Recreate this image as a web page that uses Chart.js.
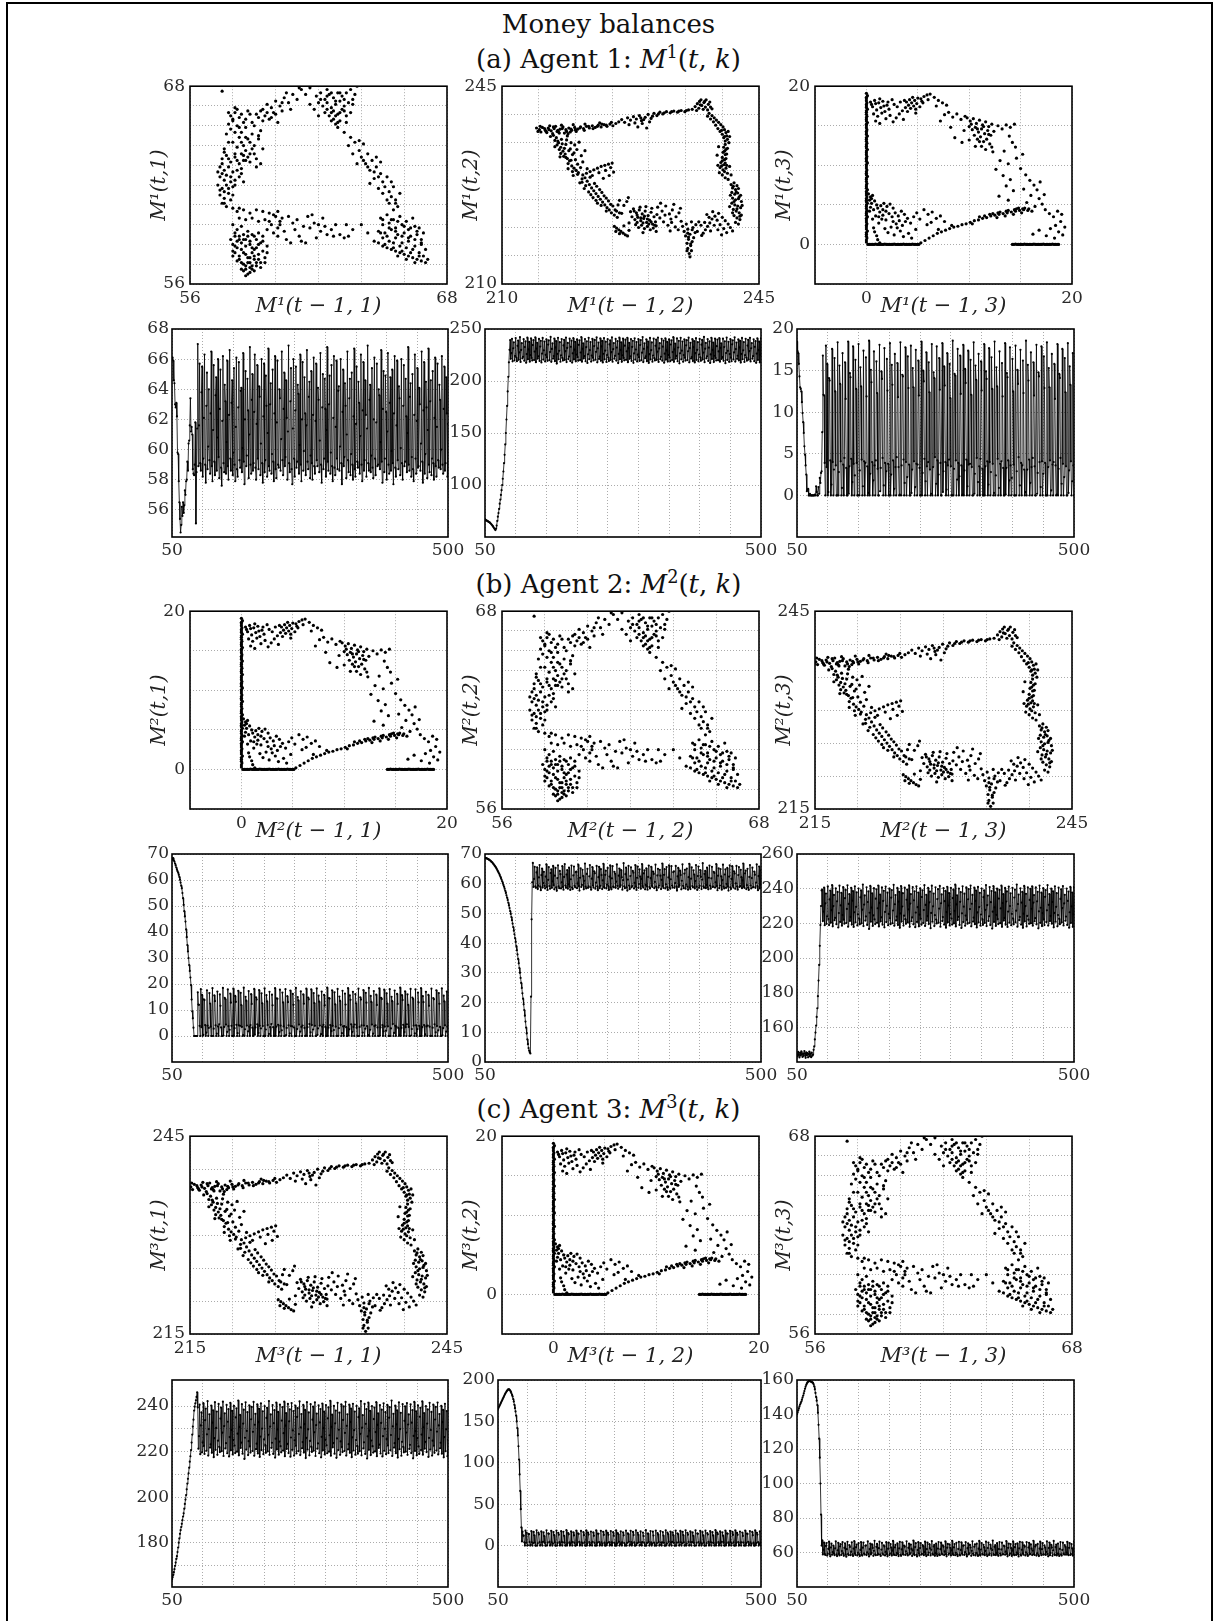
<!DOCTYPE html>
<html><head><meta charset="utf-8">
<script src="https://cdn.jsdelivr.net/npm/chart.js@4"></script>
<style>
html,body{margin:0;padding:0;background:#fff;}
#fig{position:relative;width:1217px;height:1621px;overflow:hidden;background:#fff;}
#frame{position:absolute;left:6px;top:2px;width:1207px;height:1650px;border:2px solid #000;box-sizing:border-box;}
.ttl{position:absolute;left:0;width:1217px;text-align:center;font-family:"DejaVu Serif";font-size:26px;color:#111;line-height:30px;white-space:nowrap;}
.ttl sup{font-size:0.68em;vertical-align:0.55em;line-height:0;}
.ch{position:absolute;}
</style></head>
<body>
<div id="fig">
<div id="frame"></div>
<div class="ttl" style="top:9px">Money balances</div>
<div class="ttl" style="top:44px">(a) Agent 1: <i>M</i><sup>1</sup>(<i>t</i>, <i>k</i>)</div>
<div class="ttl" style="top:569px">(b) Agent 2: <i>M</i><sup>2</sup>(<i>t</i>, <i>k</i>)</div>
<div class="ttl" style="top:1094px">(c) Agent 3: <i>M</i><sup>3</sup>(<i>t</i>, <i>k</i>)</div>
</div>
<script>
// ---------------- time axis ----------------
const T0 = 50, T1 = 500;
const tsXTicks = [50,100,150,200,250,300,350,400,450,500];
const tsXLabels = [50,500];

// ---------------- steady-state oscillations ----------------
const lowCycle = [
67.0,58.9,61.6,65.7,59.1,58.6,63.8,65.5,58.2,59.4,
62.1,66.3,59.0,57.8,62.9,65.1,58.7,60.2,64.0,59.3,
58.4,62.4,66.5,58.9,57.9,61.3,65.6,59.2,58.3,63.6,
64.8,58.6,60.8,66.0,59.5,58.1,62.7,65.3,58.8,57.6,
61.9,66.2,59.1,58.5,64.3,63.2,58.4,60.5,65.9,58.9,
58.0,62.3,66.6,59.4,58.6,63.1,64.6,58.3,59.8,65.4,
59.0,57.9,61.5,66.1,58.7,58.2,62.8,65.8,59.3,58.8,
63.9,64.1,58.5,60.1,66.4,59.2,57.7,62.0,65.2,58.9,
59.6,64.7,62.6,58.1,61.0,66.8,59.0,58.4,63.3,65.0,
58.6,59.1,62.5,66.3,58.8,58.0,61.7,65.6,59.4,58.7,
64.2,63.5,58.3,60.4,66.0,59.1,57.8,62.2,65.7,58.5,
59.3,64.9,62.9,58.2,61.1,66.7,58.9,58.6,63.0,64.4,
58.4,59.7,65.3,59.2,57.9,62.4,66.2,58.7,58.1,61.8,
65.9,59.0,58.8,64.0,63.4,58.6,60.7,66.5,59.3,58.3,
62.7,65.1,58.9,59.5,64.6,62.1,58.0,61.2,66.9,59.1,
58.5,63.2,65.4,58.7,57.7,61.4,66.0,59.4,58.2,62.6,
65.5,58.8,59.2,64.3,63.7,58.4,60.3,66.3,59.0,57.9,
62.0,65.8,58.6,59.9,64.8,62.4,58.3,61.6,66.6,59.2,
58.7,63.5,64.5,58.1,59.6,65.2,59.1,58.0,62.3,66.1,
58.9,58.4,61.9,65.7,59.3,58.9,64.1,63.3,58.5,60.6,
66.4,59.0,57.8,62.8,65.0,58.7,59.4,64.7,62.7,58.2,
61.3,66.8,59.2,58.6,63.0,64.9,58.4,59.8,65.6,58.9,
57.9,62.1,66.2,58.8,58.3,61.5,65.9,59.4,58.7,63.9,
64.2,58.6,60.2,66.0,59.1,57.7,62.5,65.3,58.9,59.5,
64.4,62.9,58.1,61.0,66.5,59.3,58.5,63.4,64.7,58.3,
59.7,65.1,59.0,58.0,62.2,66.7,58.7,58.2,61.7,65.5,
59.2,58.8,64.5,63.1,58.4,60.9,66.3,59.0,57.9,62.6,
65.8,58.6,59.3,64.6,62.3,58.2,61.4,66.9,59.1,58.6,
63.3,64.3,58.5,59.6,65.4,58.8,58.1,62.0,66.1,59.4,
58.3,61.8,65.7,58.9,59.0,64.0,63.6,58.7,60.5,66.6,
59.2,57.8,62.7,65.2,58.5,59.4,64.9,62.5,58.0,61.2,
66.4,59.0,58.4,63.1,64.8,58.6,59.9,65.3,59.1,57.7,
62.4,66.2,58.8,58.2,61.6,65.9,59.3,58.7,64.2,63.4,
58.3,60.1,66.0,59.1,58.0,62.9,65.6,58.9,59.2,64.7,
62.2,58.5,61.1,66.8,59.0,58.6,63.5,64.4,58.2,59.5,
65.0,58.7,57.9,62.3,66.3,59.4,58.4,61.9,65.4,58.8,
58.9,64.1,63.0,58.6,60.4,66.5,59.2,57.8,62.6,65.8,
58.4,59.7,64.5,62.8,58.1,61.3,66.7,59.0,58.5,63.2,
64.6,58.3,59.4,65.2,59.1,58.0,62.1,66.1,58.9,58.2,
61.5,65.7,59.3,58.8,64.3,63.3,58.7,60.0,66.2,59.0,
58.4,62.7,65.5,58.6,59.1,64.8,62.4,58.2,61.7,66.4];

const highCycle = [
239.4,221.3,226.8,240.6,218.9,231.5,237.2,219.7,224.1,241.3,
222.5,219.0,233.8,238.9,220.4,227.6,242.1,218.3,229.9,236.4,
221.8,223.2,240.2,219.5,232.7,238.1,217.6,225.9,241.7,220.8,
230.4,237.6,218.6,224.8,240.9,222.1,219.8,234.5,239.3,220.2,
228.3,241.9,218.1,231.2,236.8,221.4,223.7,240.5,219.3,233.1,
238.6,217.9,226.4,241.4,220.6,229.5,237.9,218.8,225.2,240.1,
222.7,219.4,235.0,239.0,220.0,227.9,242.4,218.4,230.8,236.1,
221.6,224.0,240.8,219.1,232.3,238.4,216.8,226.1,241.6,220.9,
229.1,237.3,218.5,224.6,240.3,222.3,219.6,234.2,239.6,220.3,
228.7,241.8,218.2,231.8,236.6,221.1,223.5,240.7,219.2,232.9,
238.8,217.7,226.6,241.2,220.7,230.1,237.7,218.9,225.4,240.0,
222.9,219.5,234.8,239.2,220.1,227.4,242.2,218.6,231.0,236.3,
221.7,223.9,240.4,219.0,232.5,238.2,217.4,225.7,241.5,221.0,
229.7,237.4,218.7,224.4,240.6,222.4,219.7,233.6,239.5,220.5,
228.1,241.9,218.0,231.4,236.9,221.2,223.4,240.9,219.4,233.3,
238.5,217.8,226.2,241.3,220.8,229.3,237.8,218.3,225.0,240.2,
222.6,219.2,235.2,239.1,220.2,227.7,242.0,218.5,230.6,236.5,
221.5,224.2,240.5,219.6,232.1,238.3,217.2,226.0,241.7,220.9,
229.8,237.2,218.4,224.7,240.8,222.2,219.9,234.0,239.7,220.4,
228.5,241.6,218.1,231.6,236.7,221.3,223.6,240.3,219.3,232.8,
238.7,217.5,226.5,241.1,220.6,230.3,237.5,218.8,225.3,240.4,
222.8,219.3,234.6,239.4,220.0,227.2,242.3,218.2,230.9,236.2,
221.9,223.8,240.1,219.1,232.4,238.0,217.3,225.8,241.4,220.7,
229.6,237.1,218.6,224.5,240.7,222.0,219.8,233.9,239.8,220.3,
228.2,241.8,218.3,231.3,236.4,221.0,223.3,240.6,219.5,233.0,
238.9,217.6,226.3,241.0,220.5,229.4,237.6,218.7,225.1,240.1,
222.5,219.1,235.1,239.0,220.2,227.8,242.1,218.4,230.5,236.0,
221.4,224.1,240.9,219.0,232.2,238.6,217.0,226.7,241.5,220.8,
229.2,237.9,218.5,224.9,240.0,222.4,219.6,234.3,239.3,220.1,
228.6,241.7,218.0,231.7,236.8,221.6,223.1,240.4,219.2,232.6,
238.4,217.9,226.8,241.2,220.4,230.0,237.3,218.9,225.5,240.5,
222.7,219.4,234.9,239.5,220.6,227.3,242.4,218.1,231.1,236.6,
221.8,223.7,240.2,219.3,232.0,238.1,217.4,225.6,241.6,221.1,
229.9,237.0,218.2,224.3,240.8,222.1,219.7,233.5,239.9,220.0,
228.4,241.3,218.6,231.9,236.3,221.2,223.0,240.7,219.4,232.7,
238.2,217.1,226.9,241.8,220.3,229.0,237.7,218.4,225.9,240.3,
222.3,219.0,235.3,239.2,220.7,227.5,242.0,218.7,230.7,236.9,
221.3,224.3,240.0,219.8,232.3,238.5,217.7,226.0,241.4,220.9,
229.5,237.4,218.3,224.8,240.6,222.6,219.5,234.1,239.6,220.5,
228.8,241.5,218.8,231.5,236.5,221.5,223.9,240.1,219.1,232.9,
238.3,217.5,226.4,241.0,220.2,229.8,237.8,218.0,225.2,240.9];

const zeroCycle = [
16.8,12.1,12.0,3.9,0,18.0,3.4,15.8,0,0.4,
14.1,13.8,4.2,0,1.3,17.6,4.0,0,3.1,16.5,
12.5,3.6,0,0,18.4,0,2.8,15.6,13.4,4.1,
0,0.9,17.1,3.7,0,4.5,16.0,11.6,3.3,0,
0,18.5,0.2,3.5,14.7,14.2,4.4,0,1.6,17.9,
3.8,0,2.4,16.3,12.8,3.9,0,0,18.2,0,
3.0,15.4,13.1,4.3,0,1.1,17.4,4.1,0,3.9,
16.6,11.9,3.5,0,0.3,18.6,0,2.6,15.1,13.6,
4.0,0,1.8,17.3,3.6,0,4.2,16.1,12.3,3.2,
0,0,18.1,0.5,3.3,14.9,14.0,4.5,0,1.2,
17.7,3.9,0,2.9,16.4,12.6,3.8,0,0,18.3,
0,2.5,15.7,13.3,4.2,0,0.8,17.0,3.4,0,
4.6,15.9,11.8,3.4,0,0.1,18.4,0,3.6,14.5,
14.3,4.3,0,1.5,17.8,4.0,0,2.2,16.7,12.9,
3.7,0,0,18.0,0.3,3.1,15.3,13.0,4.1,0,
1.0,17.5,3.8,0,3.7,16.2,12.0,3.3,0,0,
18.5,0,2.7,15.0,13.7,4.4,0,1.7,17.2,3.5,
0,4.0,16.0,12.4,3.1,0,0.2,18.2,0,3.4,
14.8,14.1,4.6,0,1.4,17.9,4.2,0,2.5,16.5,
12.7,3.9,0,0,18.3,0.4,2.9,15.5,13.2,4.0,
0,0.7,17.1,3.6,0,4.3,15.8,11.7,3.5,0,
0,18.6,0,3.2,14.6,14.4,4.2,0,1.9,17.6,
3.9,0,2.3,16.8,12.2,3.6,0,0.1,18.1,0,
3.0,15.2,13.5,4.3,0,1.1,17.4,3.7,0,3.8,
16.3,12.1,3.4,0,0,18.4,0.2,2.6,15.6,13.9,
4.5,0,1.6,17.0,3.5,0,4.4,16.1,12.6,3.2,
0,0,18.2,0,3.5,14.9,14.0,4.1,0,1.3,
17.7,4.0,0,2.8,16.6,12.8,3.8,0,0.3,18.5,
0,2.4,15.4,13.1,4.4,0,0.9,17.3,3.8,0,
4.1,15.9,11.9,3.3,0,0,18.3,0.1,3.3,14.7,
14.2,4.2,0,1.8,17.8,3.6,0,2.1,16.4,12.5,
3.7,0,0,18.0,0,2.9,15.1,13.4,4.6,0,
1.2,17.5,3.9,0,3.6,16.2,12.3,3.1,0,0.4,
18.6,0,3.1,15.7,13.8,4.3,0,1.5,17.2,3.4,
0,4.5,16.0,12.0,3.5,0,0,18.1,0.2,2.7,
14.8,14.3,4.0,0,1.0,17.9,4.1,0,2.6,16.7,
12.9,3.9,0,0,18.4,0,3.4,15.3,13.0,4.2,
0,0.6,17.0,3.7,0,4.0,15.8,11.6,3.6,0,
0.1,18.2,0,3.2,14.6,14.1,4.5,0,1.4,17.6,
3.8,0,2.2,16.5,12.4,3.5,0,0,18.3,0.3,
3.0,15.5,13.3,4.1,0,1.7,17.1,3.6,0,4.2];

// ---------------- start-up transients (from t = 50) ----------------
const m1k1Start = [66.0,66.1,65.9,64.6,64.4,63.0,62.8,63.1,62.2,59.8,59.7,57.9,56.5,55.4,54.5,55.0,56.2,55.6,56.5,55.8,56.3,57.3,57.0,57.9,58.0,59.2,58.6,60.4,60.6,61.6,63.4,61.2,61.5,61.0,58.7,58.4,58.3,59.0,61.8,55.1,58.5,61.4];
const m1k2Start = [67.0,66.5,66.0,65.7,65.3,65.0,64.6,64.2,63.8,63.2,62.5,61.8,61.0,60.2,59.3,58.4,57.5,56.7,58.0,61.0,65.5,69.5,73.0,77.0,82.0,86.0,90.5,95.0,100.0,106.0,113.0,121.0,129.0,139.0,150.0,163.0,176.0,190.0,204.0,218.0,230.0];
const m1k3Start = [18.5,17.3,17.1,15.8,14.3,13.0,12.8,12.5,11.2,9.9,8.8,7.5,5.9,4.9,3.6,2.5,0.5,0.7,0.8,0,0,0.2,0,0,0,0,0,0,0,0.1,0,1.1,0.4,0,0,1.0,0.2,2.1,1.5,2.7,2.9,7.6];
const m2k1Start = [68.2,67.9,68.4,67.5,67.1,66.3,65.6,64.8,64.0,63.4,62.8,62.0,61.2,60.1,59.0,57.8,56.8,55.0,53.0,50.4,48.0,46.0,44.0,41.0,38.0,35.0,32.5,30.0,27.3,25.0,22.5,19.6,14.0,9.5,6.8,3.2,0,0,0,0,0,0];
const m2k2Start = [
68.7,68.6,68.6,68.5,68.4,68.3,68.2,68.0,67.9,67.7,
67.5,67.3,67.1,66.8,66.6,66.3,66.0,65.7,65.4,65.0,
64.6,64.2,63.8,63.4,62.9,62.4,61.9,61.4,60.8,60.2,
59.6,59.0,58.3,57.6,56.9,56.1,55.3,54.5,53.6,52.7,
51.8,50.8,49.8,48.8,47.7,46.6,45.4,44.2,43.0,41.7,
40.4,39.0,37.6,36.2,34.7,33.2,31.6,30.0,28.3,26.6,
24.9,23.1,21.3,19.4,17.5,15.6,13.6,11.6,9.6,7.6,
6.0,4.7,3.8,3.2,2.9,22.0,48.0,60.5];
const m2k3Start = [144.5,143.2,145.8,144.1,142.6,145.3,143.7,146.1,144.4,142.9,145.0,143.5,146.3,144.8,142.4,145.6,143.9,145.2,142.7,144.6,146.0,143.3,144.9,142.8,145.4,143.6,144.2,147.0,149.0,153.0,157.0,161.0,166.0,171.0,178.0,187.0,196.0,207.0,219.0,230.0,239.0];
const m3k1Start = [164,165,166,167.2,168.5,170,171.4,173,174.2,176,178,180.1,182,184,185.6,187,188.4,190,191.6,193,195,197.1,199,201,203.5,206,208.1,210.5,213,215.6,218,220.7,224,227.5,231,234,238,239.7,241.2,242.5,244,246];
const m3k2Start = [165,166.5,168,169.5,171,172.5,174,175.5,177,178.5,180,181.5,183,184.3,185.5,186.6,187.5,188.3,188.8,188.6,188,187,185.6,184,182,180,177,174,170,166,162,157,150,142,133,120,104,86,66,44,22,5];
const m3k3Start = [140,141.2,142.4,143.6,144.7,145.8,146.6,147.5,148.6,149.8,151,152.3,153.6,155,156.2,157.2,158,158.6,159,159.3,159.5,159.4,159.2,159,158.8,158.6,158.3,157.5,156.3,154.6,152.5,150.2,148,145.5,141,134,126,115,100,82,64];

// ---------------- phase-plot clouds [M(t-1,k), M(t,k)] ----------------
const lowPhase = [
[57.5,67.7],
[57.9,66.2],[58.1,66.4],[58.0,65.9],[58.3,66.1],[58.2,65.6],[58.5,65.8],[58.4,65.2],[58.6,65.5],[58.3,64.9],[58.7,64.8],
[58.5,64.4],[58.8,64.6],[58.6,64.1],[58.9,64.2],[58.7,63.7],[59.0,63.9],[58.8,63.4],[59.1,63.6],[58.2,66.6],[57.8,65.7],
[58.9,65.1],[59.2,64.8],[58.4,63.9],[59.3,63.3],[58.1,65.2],[58.6,66.0],[59.0,65.6],[58.8,66.3],[59.2,66.1],[58.0,64.6],
[59.4,64.2],[59.1,63.1],[58.5,63.5],[59.3,65.3],[58.7,66.5],
[57.6,64.2],[57.8,64.6],[57.7,65.1],[57.9,65.4],[58.0,66.0],[58.2,64.3],[58.4,64.6],[58.1,63.9],[58.3,65.5],[58.6,64.9],
[58.9,65.8],[59.1,66.3],[59.3,66.5],[58.4,66.3],[58.1,66.7],[57.8,66.4],[59.0,64.4],[59.2,65.0],[58.5,63.8],[58.8,63.9],
[59.4,65.9],[59.6,66.4],[59.8,66.1],[60.0,66.3],[60.3,67.0],
[59.4,66.6],[59.6,66.9],[59.8,66.7],[60.0,67.1],[60.2,66.8],[60.4,67.3],[60.6,67.0],[60.8,67.5],[59.5,66.2],[59.9,66.4],
[60.3,66.5],[60.7,66.6],[61.0,67.2],[61.2,67.8],[61.4,67.5],[61.6,67.9],[61.1,67.9],[60.5,67.6],[59.7,66.0],[60.1,65.8],
[57.5,63.6],[57.7,63.8],[57.9,63.4],[58.1,63.7],[58.3,63.3],[57.4,63.1],[57.6,62.9],[57.8,63.1],[58.0,62.8],[58.2,62.9],
[58.4,63.0],[57.4,62.5],[57.6,62.3],[57.9,62.5],[58.1,62.3],[58.3,62.5],[57.3,62.0],[57.5,61.8],[57.7,62.0],[58.0,61.9],
[58.5,62.2],[57.4,61.4],[57.6,61.2],[57.8,61.5],[57.5,60.9],[57.7,60.7],[58.0,60.6],[58.3,60.6],[58.6,63.5],[57.9,61.1],
[57.5,62.7],[57.7,62.6],[57.9,62.2],[58.1,62.0],[57.4,61.7],[57.6,61.6],[57.8,61.8],[58.0,61.4],[57.6,60.9],[57.3,62.8],
[57.5,63.3],[57.8,63.6],[58.2,63.5],[58.4,62.7],[57.6,64.0],
[61.9,67.4],[62.1,67.6],[62.3,67.2],[62.5,67.5],[62.7,67.3],[62.9,67.6],[63.1,67.4],[62.0,67.0],[62.2,66.8],[62.4,67.0],
[62.6,66.7],[62.8,66.9],[63.0,67.1],[63.2,66.8],[62.3,66.4],[62.5,66.2],[62.7,66.5],[62.9,66.3],[63.1,66.6],[63.3,66.2],
[62.6,65.9],[62.8,65.7],[63.0,65.9],[62.9,65.5],[63.4,67.0],[63.5,67.8],[63.7,67.5],[63.6,66.9],[63.5,66.4],[61.8,66.6],
[62.0,66.2],[61.6,66.9],[63.3,65.8],[62.4,67.8],[63.8,68.0],
[62.1,67.2],[62.4,67.4],[62.6,67.6],[62.8,67.1],[63.0,67.6],[63.2,67.2],[62.4,66.6],[62.6,66.4],[62.8,66.2],[63.0,66.4],
[63.2,66.5],[62.7,66.0],[62.9,65.8],[63.3,67.6],[63.6,67.2],
[63.2,65.2],[63.5,64.9],[63.4,64.4],[63.7,64.6],[63.9,64.1],[63.6,63.9],[64.0,63.7],[64.3,63.9],[64.2,63.3],[64.5,63.5],
[64.4,62.9],[64.7,63.1],[64.9,62.7],[64.6,62.4],[65.0,62.2],[65.2,62.5],[65.1,61.9],[64.8,61.8],[65.3,61.6],[65.5,61.9],
[65.4,61.3],[65.6,61.1],[65.3,60.9],[65.7,60.7],[65.5,60.5],[64.1,64.5],[63.8,63.3],[64.9,63.4],[65.8,61.5],[64.4,62.1],
[63.9,64.7],[64.1,63.5],[64.3,63.1],[64.6,62.8],[64.8,62.5],[65.0,61.5],[65.2,61.1],[64.7,63.7],[65.4,62.2],[65.6,60.9],
[64.9,60.0],[65.2,60.2],[65.5,59.9],[65.8,60.1],[66.1,59.8],[65.0,59.6],[65.3,59.7],[65.6,59.4],[65.9,59.6],[66.2,59.3],
[66.5,59.5],[64.8,59.2],[65.1,59.1],[65.4,59.3],[65.7,59.0],[66.0,59.1],[66.3,58.9],[66.6,59.0],[66.8,58.7],[65.0,58.8],
[65.3,58.6],[65.6,58.8],[65.9,58.5],[66.2,58.6],[66.5,58.3],[66.8,58.4],[67.0,58.1],[66.7,59.4],[66.4,60.0],[66.9,59.1],
[65.0,59.9],[65.3,59.4],[65.6,59.2],[65.9,58.9],[66.2,58.8],[66.5,58.7],[66.8,58.5],[65.2,58.9],[65.5,58.5],[65.8,58.3],
[66.1,58.2],[66.4,58.1],[66.7,57.9],[66.9,57.7],[65.4,59.9],[65.7,59.8],[66.0,59.5],[66.3,59.4],[66.6,59.2],[64.9,59.1],
[64.8,58.5],[65.0,58.3],[65.2,58.2],[65.4,58.1],[65.6,58.0],[65.8,57.9],[66.0,57.8],[66.2,57.7],[66.4,57.6],[66.6,57.5],
[66.8,57.4],[67.0,57.3],[65.1,58.4],[65.5,58.2],[65.9,58.0],[66.3,57.9],[66.7,57.7],[67.1,57.5],[65.7,57.7],[66.1,57.5],[66.5,57.3],
[59.9,60.2],[60.1,60.4],[60.3,60.0],[60.2,59.6],[60.4,59.2],[60.1,58.9],[60.5,58.7],[60.6,60.1],[60.8,59.7],[61.0,59.9],
[60.9,59.3],[61.1,58.9],[61.2,58.6],[61.4,58.5],[61.3,59.5],[61.5,60.1],[61.6,59.4],[61.8,59.7],[62.0,59.6],[62.1,59.2],
[62.3,59.5],[62.4,59.0],[62.6,59.3],[62.8,59.6],[62.7,58.9],[63.0,59.0],[63.2,58.8],[63.4,58.9],[63.6,59.3],[63.3,59.6],
[61.9,58.8],[60.7,58.5],[61.7,60.2],[62.2,60.0],[59.7,59.8],[64.0,59.6],[64.3,59.1],[64.6,58.6],
[58.2,60.4],[58.5,60.5],[58.8,60.3],[59.1,60.5],[59.4,60.4],[59.7,60.3],[60.0,60.1],[60.2,59.8],[58.3,60.0],[58.6,59.9],
[58.9,60.0],[59.2,59.8],[59.5,59.9],[59.8,59.6],[60.1,59.4],[59.9,59.1],[59.6,59.3],
[58.0,59.6],[58.2,59.3],[58.4,59.5],[58.1,58.9],[58.3,58.7],[58.5,59.0],[58.7,59.2],[58.0,58.4],[58.2,58.2],[58.4,58.5],
[58.6,58.3],[58.8,58.6],[59.0,58.9],[59.2,59.1],[58.1,57.9],[58.3,57.7],[58.5,57.9],[58.7,57.6],[58.9,57.9],[59.1,58.2],
[59.3,58.5],[59.4,58.9],[58.4,57.3],[58.6,57.1],[58.8,57.3],[59.0,57.5],[59.2,57.8],[59.4,58.0],[58.5,56.8],[58.7,56.6],
[58.9,56.9],[59.1,57.1],[59.3,57.3],[58.2,57.4],[58.0,58.0],[57.9,58.7],[59.5,57.6],[59.6,58.3],[58.6,58.7],[58.9,58.2],
[58.8,57.0],[58.6,56.5],
[58.1,59.1],[58.3,58.9],[58.5,58.7],[58.7,58.9],[58.9,59.0],[59.1,58.7],[58.2,58.6],[58.4,58.1],[58.6,57.8],[58.8,57.6],
[59.0,57.7],[59.2,57.5],[58.3,57.5],[58.5,57.2],[58.7,57.3],[58.9,57.1],[59.1,57.3],[58.1,58.3],[58.0,57.7],[58.4,56.9],
[58.6,56.9],[58.8,56.7],[59.0,56.8],[59.3,57.0],[59.5,57.3],[59.6,57.9],[59.4,58.6],[59.2,58.4],[59.0,58.1],[58.8,58.4]];

const highPhase = [
[214.7,237.6],[215.1,237.3],[215.5,237.7],[215.9,237.2],[216.3,237.6],[216.7,237.1],[217.1,237.5],[217.5,237.0],[217.9,237.4],[218.3,237.8],
[218.7,237.3],[219.1,237.6],[219.5,237.2],[219.9,237.7],[220.3,237.4],[220.7,237.8],[221.1,237.5],[221.5,237.9],[221.9,237.6],[222.3,238.0],
[222.7,237.7],[223.1,238.1],[223.5,237.8],[223.9,238.2],[224.3,237.9],[224.7,238.3],[225.1,238.0],[225.5,238.4],[215.3,236.9],[216.1,236.8],
[216.9,236.6],[217.7,236.9],[218.5,236.7],[219.3,236.9],[220.1,237.0],[216.5,238.0],[217.3,237.9],[218.1,238.1],[219.7,238.2],[221.3,238.3],
[223.3,238.5],[224.9,238.6],
[215.2,237.9],[215.8,237.5],[216.4,237.3],[217.0,237.8],[217.6,237.2],[218.2,237.5],[218.8,237.0],[219.4,237.4],[220.0,237.3],[220.6,237.6],
[221.2,237.2],[221.8,237.9],[222.4,237.5],[223.0,237.9],[223.6,238.3],[224.2,238.1],[214.9,237.0],[216.0,237.0],[217.8,236.7],[219.0,236.6],
[225.9,238.7],[226.3,239.1],[226.7,238.6],[227.1,239.4],[227.5,239.0],[227.9,239.6],[228.3,239.2],[228.7,239.8],[229.1,238.4],[229.5,239.5],
[229.9,240.0],[230.3,239.3],[228.5,237.8],[229.0,238.9],[229.7,237.6],[230.7,240.2],[231.1,239.8],[231.5,240.4],[231.9,240.1],[232.4,240.5],
[232.9,240.3],[233.4,240.6],[233.9,240.4],[234.4,240.7],[234.9,240.5],[235.4,240.8],[235.9,240.9],[227.3,238.2],[228.1,238.5],[230.1,238.7],
[231.3,240.1],[232.1,240.3],[233.1,240.5],[234.1,240.6],[235.1,240.7],[229.3,239.1],[228.9,239.4],[230.5,239.7],[237.0,241.7],[237.6,242.3],
[236.3,241.4],[236.6,241.9],[236.9,242.3],[237.2,241.6],[237.5,242.1],[237.8,242.6],[238.1,241.8],[238.4,241.3],[236.8,241.1],[237.4,240.9],
[238.0,240.8],[238.6,241.0],[237.1,242.6],[237.7,241.3],[236.5,240.7],[238.3,242.2],
[238.2,240.2],[238.6,239.8],[238.9,239.4],[239.2,239.0],[239.5,238.6],[239.8,238.2],[240.1,237.8],[240.3,237.3],[240.5,236.8],[240.6,236.2],
[240.7,235.6],[238.4,239.2],[238.8,238.7],[239.1,238.1],[239.4,237.5],[239.7,237.0],[240.0,236.5],[240.2,235.9],[240.4,235.3],[238.0,239.7],
[240.8,237.0],[241.0,236.1],
[240.4,234.7],[240.2,234.2],[240.5,233.8],[240.1,233.3],[240.4,232.9],[240.0,232.4],[240.3,232.0],[239.8,231.5],[240.2,231.1],[239.7,230.6],
[240.1,230.2],[239.6,229.7],[240.0,229.3],[240.4,228.8],[240.8,228.5],[240.7,234.0],[240.6,233.0],[240.5,232.2],[240.4,231.4],[240.5,230.5],
[240.7,229.6],[239.4,231.0],[239.3,232.8],[239.5,234.3],[241.0,230.8],[241.2,229.3],
[240.3,233.5],[240.0,231.8],[239.9,230.9],[240.6,231.0],[240.3,229.9],[241.5,227.3],[241.9,226.3],[242.3,225.4],[241.6,224.6],[242.0,223.3],
[241.4,222.6],[242.4,222.0],[240.9,235.0],[240.3,236.1],[239.9,237.2],
[241.2,227.6],[241.6,227.9],[242.0,227.4],[241.4,227.0],[241.8,226.7],[242.2,226.9],[241.3,226.2],[241.7,225.9],[242.1,226.1],[242.5,225.7],
[241.4,225.2],[241.8,224.9],[242.2,225.1],[242.6,224.6],[241.3,224.3],[241.7,224.0],[242.1,223.8],[242.5,223.5],[241.5,223.2],[241.9,222.9],
[242.3,222.6],[242.6,222.2],[241.6,222.1],[242.0,221.7],[242.4,221.4],[241.8,220.9],[242.2,220.6],[242.7,223.9],[241.1,225.7],[241.0,223.7],
[240.0,221.8],[240.4,221.2],[240.8,220.6],[241.1,220.0],[241.4,219.4],[240.6,219.1],[240.2,219.8],[239.7,220.5],[239.3,221.3],[239.0,222.0],
[238.6,221.5],[238.3,220.8],[238.0,220.2],[237.7,219.6],[237.4,219.0],[237.1,220.4],[236.8,221.0],[237.9,222.3],[238.7,222.8],[239.5,222.5],
[236.6,219.3],[237.2,218.6],[239.9,218.7],[238.4,219.4],
[235.6,214.8],[235.5,215.4],[235.8,215.9],[235.3,216.3],[235.7,216.8],[235.2,217.2],[235.9,217.5],[235.4,217.9],[236.1,218.2],[235.0,218.5],
[235.6,218.8],[236.3,219.1],[234.8,219.3],[235.3,219.7],[236.0,220.0],[234.6,220.2],[235.1,220.6],[235.8,221.0],[234.4,221.1],[236.4,220.5],[235.2,215.9],
[231.2,223.6],[231.8,222.9],[232.3,223.8],[232.8,222.4],[233.2,223.1],[233.7,221.9],[234.1,222.6],[231.5,221.7],[232.0,221.0],[232.6,220.4],
[233.1,220.9],[233.6,220.1],[234.0,219.6],[231.0,220.3],[232.9,219.4],[233.4,224.1],[234.3,223.4],[231.6,224.3],
[227.5,222.8],[227.9,223.3],[228.3,222.6],[228.7,223.1],[229.1,222.4],[229.5,222.9],[229.9,222.1],[230.3,222.7],[230.7,221.9],[231.1,222.3],
[227.7,221.9],[228.1,221.4],[228.5,221.8],[228.9,221.2],[229.3,221.6],[229.7,220.9],[230.1,221.3],[230.5,220.6],[230.9,221.0],[228.2,220.5],
[228.6,220.0],[229.0,220.4],[229.4,219.8],[229.8,220.2],[230.2,219.6],[230.6,219.9],[231.0,219.3],[228.8,223.6],[229.6,223.7],[230.4,223.4],
[227.3,220.8],[229.2,219.1],
[228.0,222.9],[228.4,222.2],[228.9,221.7],[229.4,222.0],[229.8,221.5],[230.3,221.0],[230.8,220.4],[228.4,220.9],[229.2,220.8],[230.0,220.6],
[235.4,218.3],[235.7,217.1],[235.3,219.0],[235.9,219.6],[237.6,220.9],[238.2,221.8],[238.9,220.4],[239.4,219.6],[233.0,221.5],[232.2,222.2],
[225.3,220.2],[225.6,219.9],[225.9,219.6],[226.2,219.3],[226.5,219.0],[226.8,218.7],[227.1,218.5],[225.5,219.3],[226.0,218.9],[226.6,220.3],[227.3,219.5],
[217.0,236.3],[217.4,235.9],[217.2,235.4],[217.7,235.0],[217.5,234.6],[218.0,234.2],[217.8,233.8],[218.3,233.5],[218.6,233.0],[218.4,232.6],
[218.9,232.2],[219.2,231.8],[219.0,231.3],[219.5,230.9],[219.8,230.5],[220.1,230.1],[220.4,229.7],[218.1,235.6],[218.7,234.7],[219.3,233.9],
[219.6,232.9],[220.0,232.0],[220.3,231.2],[220.7,230.6],[221.0,229.3],[221.3,228.8],[221.6,228.2],[221.9,227.6],[222.2,227.0],[222.5,226.5],
[222.8,226.0],[223.1,225.5],[223.4,225.0],[223.7,224.5],[224.0,224.0],[224.3,223.5],[224.6,223.1],[224.9,222.6],[225.3,222.2],[225.7,221.8],
[222.0,228.9],[222.6,227.8],[223.3,226.7],[223.9,225.6],[224.5,224.7],[225.1,223.8],[221.2,226.9],[222.4,225.3],[220.6,227.9],[219.7,229.2],
[216.6,236.1],[218.9,236.2],[220.5,235.1],[221.3,233.6],[219.9,234.6],
[217.6,235.3],[218.2,234.8],[218.8,235.5],[219.4,235.0],[218.5,234.0],[219.1,233.6],[219.8,233.2],[218.0,233.1],[218.7,232.4],[219.4,231.9],
[220.2,233.8],[220.8,232.7],[221.0,231.6],[219.0,230.4],[219.6,229.9],[220.3,229.4],[220.9,228.6],[221.6,230.4],[217.2,234.3],[217.9,232.5],
[221.8,226.3],[222.9,227.3],[223.6,226.2],[224.2,225.2],[224.8,224.1],[225.4,223.1],[222.1,225.8],[222.8,224.8],[223.5,223.9],[224.2,222.9],
[221.4,227.4],[220.9,228.0],[223.0,224.3],[226.0,222.6],[225.6,222.9],
[221.5,229.6],[222.0,229.9],[222.5,230.2],[223.0,230.5],[223.5,230.8],[224.0,231.0],[224.5,231.2],[225.0,231.4],[222.3,229.2],[223.2,229.7],
[224.1,230.1],[224.8,230.6],[225.2,229.8],[224.6,229.2],[223.8,228.7],
[226.0,224.8],[226.6,223.9],[227.0,224.6],[226.3,222.5],[225.8,224.0],[227.2,225.3]];

const zeroPhase = [
[0,0.3],[0.05,0.8],[0,1.3],[0.1,1.7],[0,2.2],[0.05,2.6],[0,3.1],[0.1,3.5],[0,3.9],[0.05,4.3],
[0,4.8],[0.1,5.2],[0,5.6],[0.05,6.0],[0,6.5],[0.1,6.9],[0,7.3],[0.05,7.7],[0,8.2],[0.1,8.6],
[0,9.0],[0.05,9.4],[0,9.9],[0.1,10.3],[0,10.7],[0.05,11.1],[0,11.6],[0.1,12.0],[0,12.4],[0.05,12.8],
[0,13.3],[0.1,13.7],[0,14.1],[0.05,14.5],[0,15.0],[0.1,15.4],[0,15.8],[0.05,16.2],[0,16.7],[0.1,17.1],
[0,17.5],[0.05,17.9],[0,18.4],[0.1,18.8],[0,19.1],
[0,0.55],[0,1.05],[0,1.5],[0,1.95],[0,2.4],[0,2.85],[0,3.3],[0,3.7],[0,4.1],[0,4.55],
[0,5.0],[0,5.4],[0,5.8],[0,6.25],[0,6.7],[0,7.1],[0,7.5],[0,7.95],[0,8.4],[0,8.8],
[0,9.2],[0,9.65],[0,10.1],[0,10.5],[0,10.9],[0,11.35],[0,11.8],[0,12.2],[0,12.6],[0,13.05],
[0,13.5],[0,13.9],[0,14.3],[0,14.75],[0,15.2],[0,15.6],[0,16.0],[0,16.45],[0,16.9],[0,17.3],
[0,17.7],[0,18.15],[0,18.6],
[0.3,0],[0.6,0],[0.9,0.05],[1.2,0],[1.5,0],[1.8,0.05],[2.1,0],[2.4,0],[2.7,0.05],[3.0,0],
[3.3,0],[3.6,0.05],[3.9,0],[4.2,0],[4.5,0.05],[4.8,0],[5.1,0],
[0.15,0],[0.45,0],[0.75,0],[1.05,0],[1.35,0],[1.65,0],[1.95,0],[2.25,0],[2.55,0],[2.85,0],
[3.15,0],[3.45,0],[3.75,0],[4.05,0],[4.35,0],[4.65,0],[4.95,0],
[14.2,0],[14.5,0.05],[14.8,0],[15.1,0],[15.4,0.05],[15.7,0],[16.0,0],[16.3,0.05],[16.6,0],[16.9,0],
[17.2,0.05],[17.5,0],[17.8,0],[18.1,0.05],[18.4,0],[18.7,0],
[14.35,0],[14.65,0],[14.95,0],[15.25,0],[15.55,0],[15.85,0],[16.15,0],[16.45,0],[16.75,0],[17.05,0],
[17.35,0],[17.65,0],[17.95,0],[18.25,0],[18.55,0],
[0.4,18.0],[0.8,18.2],[1.2,17.9],[1.6,18.1],[2.0,17.6],[0.6,17.4],[1.0,17.0],[1.4,17.3],[1.8,16.8],[2.2,17.1],
[0.7,16.5],[1.1,16.2],[1.5,16.6],[1.9,15.9],[2.3,16.3],[0.9,15.6],[1.3,15.3],[2.6,15.5],[2.9,16.0],[3.2,16.5],
[3.5,16.9],[3.8,17.3],[4.1,17.6],[4.4,17.9],[4.7,18.2],[5.0,18.5],[5.3,18.4],[5.6,18.7],[5.9,18.9],[6.2,19.0],
[3.0,17.4],[3.3,18.0],[3.7,18.2],[4.0,16.8],[4.3,17.2],[4.6,17.5],[4.9,17.8],[5.2,17.4],[5.5,17.9],[2.7,17.7],
[3.6,15.8],[2.5,18.3],[4.8,16.6],[6.0,18.3],
[0.5,17.7],[0.9,17.8],[1.3,18.4],[1.7,17.5],[2.1,18.0],[3.9,18.0],[4.2,18.3],[4.5,18.6],[4.8,17.1],[5.4,18.1],
[6.6,18.6],[7.0,18.2],[7.4,17.9],[7.8,17.6],[6.8,17.5],[7.6,16.4],[8.0,16.7],[8.4,16.1],[8.8,16.5],[9.2,15.8],
[9.6,16.2],[8.6,13.5],[9.3,12.9],[10.0,13.2],[10.6,12.4],[9.8,16.0],[10.1,15.6],[10.4,15.9],[10.7,15.3],[11.0,15.7],
[11.3,15.1],[11.6,15.5],[11.9,14.9],[12.2,15.2],[10.0,14.9],[10.3,14.5],[10.6,14.8],[10.9,14.2],[11.2,14.6],[11.5,14.0],
[11.8,14.4],[12.1,13.8],[10.5,13.8],[10.8,13.3],[11.1,13.6],[11.4,13.0],[11.7,13.3],[12.0,12.7],[11.2,12.4],[11.6,12.0],
[12.3,11.7],[12.4,14.3],[9.5,14.4],[7.2,15.6],[8.2,14.8],
[10.2,15.2],[10.8,14.6],[11.4,14.9],[11.0,13.0],[11.9,13.9],[12.2,12.3],
[12.8,15.0],[13.2,14.6],[13.6,15.1],[14.0,14.8],[14.4,15.2],[13.9,13.7],[14.2,12.9],[14.5,12.3],[13.4,11.8],[13.0,10.6],
[13.8,10.2],[14.6,10.9],[15.2,11.4],[12.6,9.5],[13.3,8.7],[14.0,8.2],[13.6,7.4],[14.3,6.8],[12.9,6.1],[13.8,5.6],
[15.0,9.6],[15.5,8.8],[15.9,8.1],[16.3,7.5],[16.6,6.9],[15.3,7.0],[16.0,6.2],[16.8,5.8],[17.1,5.1],[15.6,5.3],
[16.4,4.8],[17.4,4.4],[17.8,3.9],[18.2,3.5],[18.6,4.2],[19.0,3.8],[18.9,2.9],[18.4,2.4],[17.9,2.0],[18.7,1.6],
[19.1,1.2],[17.5,1.1],[16.8,1.8],[16.2,1.3],[18.3,0.8],[19.3,2.2],[17.3,6.3],[16.9,7.9],[14.8,4.6],
[5.3,0.2],[5.7,0.5],[6.1,0.8],[6.5,1.1],[6.9,1.4],[7.3,1.6],[7.7,1.8],[8.1,2.0],[8.5,2.2],[8.9,2.3],
[9.3,2.5],[9.7,2.6],[10.1,2.8],[10.5,3.0],[10.9,3.1],[11.3,3.3],[11.7,3.4],[12.1,3.6],[12.5,3.7],[12.9,3.8],
[13.3,3.9],[13.7,4.0],[14.1,4.1],[14.5,4.2],[14.9,4.3],[15.3,4.4],[15.7,4.3],[16.1,4.2],[11.5,3.6],[12.3,3.9],
[13.0,4.1],[13.8,4.3],[14.6,4.5],[15.4,4.6],[12.7,3.4],[13.5,3.6],[14.3,3.8],[15.1,4.0],[11.0,3.5],[10.3,2.6],
[8.3,2.4],[7.0,1.9],
[12.0,3.8],[12.8,4.0],[13.6,4.2],[14.4,4.4],[15.2,4.5],[15.8,4.5],
[0.2,6.4],[0.4,6.0],[0.6,6.2],[0.3,5.6],[0.5,5.2],[0.8,5.5],[1.0,5.0],[0.4,4.7],[0.7,4.4],[1.1,4.6],
[1.4,4.9],[1.7,5.2],[2.0,4.8],[2.3,5.1],[2.6,4.6],[1.3,4.1],[1.6,3.7],[1.9,4.2],[2.2,3.9],[2.5,3.5],
[2.8,4.0],[3.1,3.6],[3.4,4.2],[3.7,3.8],[4.0,3.3],[3.2,3.0],[2.9,2.6],[3.5,2.4],[3.8,2.9],[4.3,2.7],
[4.6,3.5],[4.9,4.0],[5.2,3.2],[2.4,2.2],[1.8,2.0],[2.1,1.5],[2.7,1.2],[3.3,1.7],[3.6,1.0],[4.1,1.4],
[4.4,0.8],[4.8,1.9],[0.7,2.1],[0.8,1.6],[1.0,1.1],[1.1,0.6],[1.3,0.2],[5.6,4.4],[6.0,3.8],[6.4,4.1],
[6.8,3.3],[7.2,3.6],[7.6,2.9],[5.9,2.5],[6.3,2.8],[1.5,3.2],[1.2,2.7],[0.9,3.6],
[0.5,5.8],[0.3,4.2],[0.6,3.2],[1.2,3.5],[1.9,3.1],[2.6,2.9],[3.0,2.1],[1.6,4.4]];

// ---------------- tick / grid values ----------------
const lowGridX = [56,58,60,62,64,66,68];
const lowGridY = [56,57.2,58.4,59.6,60.8,62,63.2,64.4,65.6,66.8,68];
const lowLabels = [56,68];
const highGrid210 = [210,215,220,225,230,235,240,245];
const highLabels210 = [210,245];
const highGrid215 = [215,220,225,230,235,240,245];
const highLabels215 = [215,245];
const zeroGrid = [-5,0,5,10,15,20];
const zeroLabels = [0,20];

const yTicksM1k1 = [56,58,60,62,64,66,68];
const yTicksM1k2 = [100,150,200,250];
const yTicksM1k3 = [0,5,10,15,20];
const yTicksM2k1 = [0,10,20,30,40,50,60,70];
const yTicksM2k2 = [0,10,20,30,40,50,60,70];
const yTicksM2k3 = [160,180,200,220,240,260];
const yGridM3k1 = [170,180,190,200,210,220,230,240];
const yLabelsM3k1 = [180,200,220,240];
const yTicksM3k2 = [0,50,100,150,200];
const yTicksM3k3 = [60,80,100,120,140,160];

// ---------------- drawing ----------------
const FONT = '"DejaVu Serif", serif';
const fig = document.getElementById('fig');
const SM = {L:42, T:14, R:24, B:35};   // scatter panel margins
const TM = {L:48, T:14, R:26, B:24};   // time-series panel margins

const framePlugin = {
  id:'frame',
  afterDraw(chart){
    const {ctx, chartArea:a} = chart;
    ctx.save(); ctx.strokeStyle = '#000'; ctx.lineWidth = 1.6;
    ctx.strokeRect(a.left, a.top, a.right - a.left, a.bottom - a.top);
    ctx.restore();
  }
};

function axisCfg(min, max, ticks, labels, title, pad, titleSize){
  return {
    type:'linear', min:min, max:max,
    afterBuildTicks: s => { s.ticks = ticks.map(v => ({value:v})); },
    ticks:{autoSkip:false, maxRotation:0, minRotation:0, padding:pad, color:'#2a2a2a',
      font:{family:FONT, size:17}, callback: v => labels.includes(v) ? String(v) : ''},
    grid:{color:'#ababab', lineWidth:1, drawTicks:false},
    border:{display:false, dash:[1,2]},
    title: title ? {display:true, text:title, color:'#222', padding:0,
      font:{family:FONT, size:titleSize, style:'italic', lineHeight:1.2}} : {display:false}
  };
}

function place(rect, M, cfg){
  const w = rect[1] - rect[0] + M.L + M.R, h = rect[3] - rect[2] + M.T + M.B;
  const div = document.createElement('div'); div.className = 'ch';
  div.style.left = (rect[0] - M.L) + 'px'; div.style.top = (rect[2] - M.T) + 'px';
  div.style.width = w + 'px'; div.style.height = h + 'px';
  const c = document.createElement('canvas'); c.width = w; c.height = h;
  c.style.width = w + 'px'; c.style.height = h + 'px';
  div.appendChild(c); fig.appendChild(div);
  cfg.options.responsive = false; cfg.options.animation = false; cfg.options.events = [];
  cfg.options.layout = {padding:{left:0, top:M.T, right:M.R, bottom:0}};
  cfg.options.plugins = {legend:{display:false}, tooltip:{enabled:false}};
  cfg.plugins = [framePlugin];
  new Chart(c, cfg);
}

function phaseChart(rect, pts, xs, ys, xTitle, yTitle){
  const x = axisCfg(xs[0], xs[1], xs[2], xs[3], xTitle, 4, 21);
  x.afterFit = s => { s.height = SM.B; };
  const y = axisCfg(ys[0], ys[1], ys[2], ys[3], yTitle, 5, 20);
  y.afterFit = s => { s.width = SM.L; };
  place(rect, SM, {type:'scatter',
    data:{datasets:[{data: pts.map(p => ({x:p[0], y:p[1]})), pointRadius:1.6,
      pointBackgroundColor:'#000', pointBorderWidth:0, pointHoverRadius:0}]},
    options:{scales:{x:x, y:y}}});
}

function seriesChart(rect, start, cycle, ymin, ymax, yTicks, yLabels){
  const vals = start.concat(cycle).slice(0, T1 - T0 + 1);
  const x = axisCfg(T0, T1, tsXTicks, tsXLabels, null, 3, 16);
  x.afterFit = s => { s.height = TM.B; };
  const y = axisCfg(ymin, ymax, yTicks, yLabels, null, 3, 16);
  y.afterFit = s => { s.width = TM.L; };
  place(rect, TM, {type:'line',
    data:{datasets:[{data: vals.map((v, i) => ({x:T0 + i, y:v})), borderColor:'#000', borderWidth:0.8,
      pointRadius:1.1, pointBackgroundColor:'#000', pointBorderWidth:0, pointHoverRadius:0,
      tension:0, fill:false}]},
    options:{scales:{x:x, y:y}}});
}

const LOW = [56, 68, lowGridX, lowLabels], LOWY = [56, 68, lowGridY, lowLabels];
const H210 = [210, 245, highGrid210, highLabels210], H215 = [215, 245, highGrid215, highLabels215];
const ZER = [-5, 20, zeroGrid, zeroLabels];
const SC = [[190,447],[502,759],[815,1072]];
const TC = [[172,448],[485,761],[797,1074]];
const TC6 = [[172,448],[498,761],[797,1074]];

function sr(c, top){ return [c[0], c[1], top, top + 199]; }
function tr(c, top, h){ return [c[0], c[1], top, top + h]; }

// Agent 1
phaseChart(sr(SC[0], 85), lowPhase, LOW, LOWY, 'M¹(t − 1, 1)', 'M¹(t,1)');
phaseChart(sr(SC[1], 85), highPhase, H210, H210, 'M¹(t − 1, 2)', 'M¹(t,2)');
phaseChart(sr(SC[2], 85), zeroPhase, ZER, ZER, 'M¹(t − 1, 3)', 'M¹(t,3)');
seriesChart(tr(TC[0], 329, 208), m1k1Start, lowCycle, 54.2, 68, yTicksM1k1, yTicksM1k1);
seriesChart(tr(TC[1], 329, 208), m1k2Start, highCycle, 50, 250, yTicksM1k2, yTicksM1k2);
seriesChart(tr(TC[2], 329, 208), m1k3Start, zeroCycle, -5, 20, yTicksM1k3, yTicksM1k3);
// Agent 2
phaseChart(sr(SC[0], 610), zeroPhase, ZER, ZER, 'M²(t − 1, 1)', 'M²(t,1)');
phaseChart(sr(SC[1], 610), lowPhase, LOW, LOWY, 'M²(t − 1, 2)', 'M²(t,2)');
phaseChart(sr(SC[2], 610), highPhase, H215, H215, 'M²(t − 1, 3)', 'M²(t,3)');
seriesChart(tr(TC[0], 854, 208), m2k1Start, zeroCycle, -10, 70, yTicksM2k1, yTicksM2k1);
seriesChart(tr(TC[1], 854, 208), m2k2Start, lowCycle, 0, 70, yTicksM2k2, yTicksM2k2);
seriesChart(tr(TC[2], 854, 208), m2k3Start, highCycle, 140, 260, yTicksM2k3, yTicksM2k3);
// Agent 3
phaseChart(sr(SC[0], 1135), highPhase, H215, H215, 'M³(t − 1, 1)', 'M³(t,1)');
phaseChart(sr(SC[1], 1135), zeroPhase, ZER, ZER, 'M³(t − 1, 2)', 'M³(t,2)');
phaseChart(sr(SC[2], 1135), lowPhase, LOW, LOWY, 'M³(t − 1, 3)', 'M³(t,3)');
seriesChart(tr(TC6[0], 1380, 207), m3k1Start, highCycle, 160.7, 251.4, yGridM3k1, yLabelsM3k1);
seriesChart(tr(TC6[1], 1380, 207), m3k2Start, zeroCycle, -50, 200, yTicksM3k2, yTicksM3k2);
seriesChart(tr(TC6[2], 1380, 207), m3k3Start, lowCycle, 40, 160, yTicksM3k3, yTicksM3k3);
</script>
</body></html>
